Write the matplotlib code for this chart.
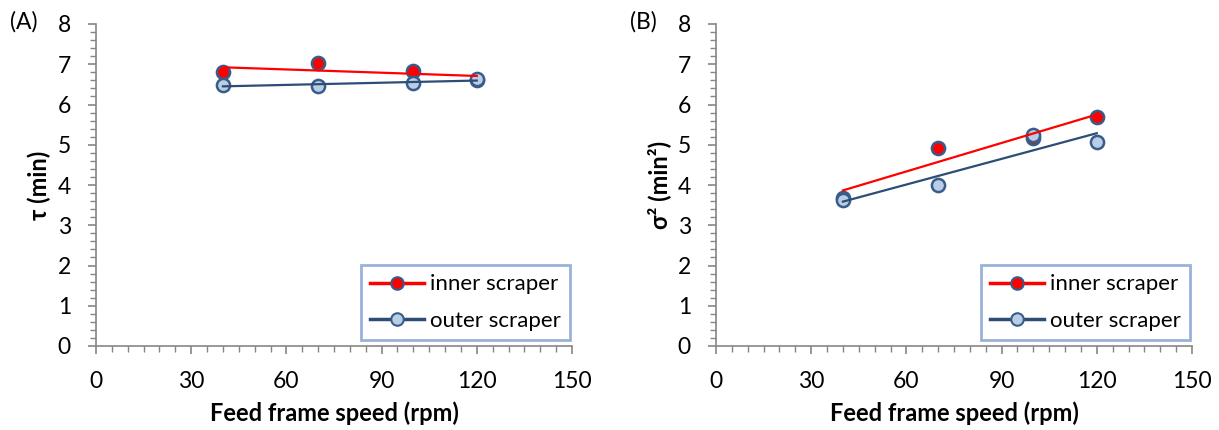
import matplotlib
matplotlib.use("Agg")
import matplotlib.pyplot as plt
import numpy as np
from matplotlib.ticker import MultipleLocator

plt.rcParams['font.family'] = ['Lato', 'DejaVu Sans']

# Data
speed = np.array([40, 70, 100, 120])
tau_inner = np.array([6.80, 7.02, 6.82, 6.60])
tau_outer = np.array([6.48, 6.47, 6.53, 6.63])
sig_inner = np.array([3.68, 4.91, 5.18, 5.70])
sig_outer = np.array([3.63, 4.00, 5.25, 5.08])

panels = ['(A)', '(B)']
ylabels = ['τ (min)', 'σ² (min²)']
series = [(tau_inner, tau_outer), (sig_inner, sig_outer)]
legend_labels = ['inner scraper', 'outer scraper']

red = '#ff0000'
dark_blue = '#2c4d75'
light_blue = '#b9cde5'
edge = '#385d8a'
gray = '#868686'

fig = plt.figure(figsize=(12.19, 4.30), dpi=100)
lefts = [96 / 1219, 716 / 1219]
w = 476 / 1219
b = 1 - 346 / 430
h = 322 / 430

for i in range(2):
    ax = fig.add_axes([lefts[i], b, w, h])
    inner, outer = series[i]
    xs = np.array([40, 120])
    # linear trendlines
    p_in = np.polyfit(speed, inner, 1)
    p_out = np.polyfit(speed, outer, 1)
    ax.scatter(speed, inner, s=90, color=red, edgecolors=edge, linewidths=1.8, zorder=3)
    ax.scatter(speed, outer, s=90, color=light_blue, edgecolors=edge, linewidths=1.8, zorder=4)
    ax.plot(xs, np.polyval(p_in, xs), color=red, lw=1.6, zorder=5)
    ax.plot(xs, np.polyval(p_out, xs), color=dark_blue, lw=1.6, zorder=5)

    # legend proxies
    h1, = ax.plot([], [], color=red, lw=2.5, marker='o', ms=9, mfc=red, mec=edge, mew=1.5)
    h2, = ax.plot([], [], color=dark_blue, lw=2.5, marker='o', ms=9, mfc=light_blue, mec=edge, mew=1.5)
    leg = ax.legend([h1, h2], legend_labels, loc='lower right', bbox_to_anchor=(0.996, 0.019),
                    borderaxespad=0, fontsize=16, frameon=True, fancybox=False,
                    handlelength=2.4, handletextpad=0.3, labelspacing=0.75,
                    borderpad=0.4, numpoints=1)
    leg.get_frame().set_edgecolor('#7f9fcf')
    leg.get_frame().set_linewidth(2)

    ax.set_xlim(0, 150)
    ax.set_ylim(0, 8)
    ax.xaxis.set_major_locator(MultipleLocator(30))
    ax.xaxis.set_minor_locator(MultipleLocator(5))
    ax.yaxis.set_major_locator(MultipleLocator(1))
    ax.yaxis.set_minor_locator(MultipleLocator(0.2))
    for s in ['top', 'right']:
        ax.spines[s].set_visible(False)
    for s in ['left', 'bottom']:
        ax.spines[s].set_color(gray)
        ax.spines[s].set_linewidth(1.2)
    ax.tick_params(which='major', direction='out', length=6, width=1.2, color=gray,
                   labelsize=16.5, pad=12)
    ax.tick_params(which='minor', direction='out', length=4, width=1.0, color=gray)
    ax.tick_params(axis='y', pad=12)
    ax.set_xlabel('Feed frame speed (rpm)', fontsize=17, fontweight='bold', labelpad=7)
    ax.set_ylabel(ylabels[i], fontsize=17, fontweight='bold', labelpad=5)
    fig.text(lefts[i] - 86 / 1219, 1 - 22 / 430, panels[i], fontsize=16.5, va='center', ha='left')

fig.savefig('out.png', dpi=100)
